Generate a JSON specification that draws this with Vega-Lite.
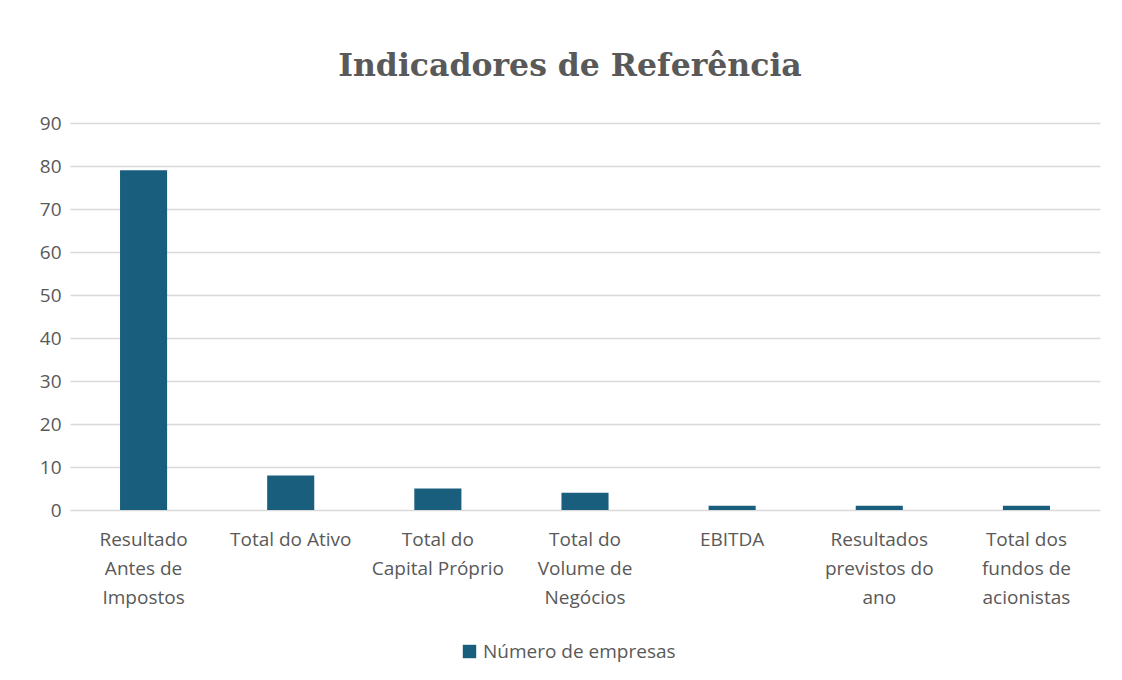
{
  "$schema": "https://vega.github.io/schema/vega-lite/v6.json",
  "autosize": {"type": "none"},
  "width": 1030,
  "height": 387,
  "padding": {"left": 70, "top": 123, "right": 22, "bottom": 170},
  "background": "white",
  "title": {
    "text": "Indicadores de Referência",
    "font": "DejaVu Serif",
    "fontSize": 31.5,
    "fontWeight": "bold",
    "color": "#595959",
    "anchor": "middle",
    "dx": -15,
    "offset": 32
  },
  "data": {
    "values": [
      {"indicador": "Resultado Antes de Impostos", "serie": "Número de empresas", "valor": 79},
      {"indicador": "Total do Ativo", "serie": "Número de empresas", "valor": 8},
      {"indicador": "Total do Capital Próprio", "serie": "Número de empresas", "valor": 5},
      {"indicador": "Total do Volume de Negócios", "serie": "Número de empresas", "valor": 4},
      {"indicador": "EBITDA", "serie": "Número de empresas", "valor": 1},
      {"indicador": "Resultados previstos do ano", "serie": "Número de empresas", "valor": 1},
      {"indicador": "Total dos fundos de acionistas", "serie": "Número de empresas", "valor": 1}
    ]
  },
  "mark": {"type": "bar"},
  "encoding": {
    "x": {
      "field": "indicador",
      "type": "nominal",
      "sort": null,
      "title": null,
      "scale": {"paddingInner": 0.68, "paddingOuter": 0.34},
      "axis": {
        "labelAngle": 0,
        "domain": false,
        "ticks": false,
        "labelFont": "Open Sans",
        "labelFontSize": 19,
        "labelColor": "#595959",
        "labelLineHeight": 29,
        "labelPadding": 20,
        "labelBaseline": "top",
        "labelLimit": 200,
        "labelExpr": "datum.label == 'Resultado Antes de Impostos' ? ['Resultado', 'Antes de', 'Impostos'] : datum.label == 'Total do Capital Próprio' ? ['Total do', 'Capital Próprio'] : datum.label == 'Total do Volume de Negócios' ? ['Total do', 'Volume de', 'Negócios'] : datum.label == 'Resultados previstos do ano' ? ['Resultados', 'previstos do', 'ano'] : datum.label == 'Total dos fundos de acionistas' ? ['Total dos', 'fundos de', 'acionistas'] : datum.label"
      }
    },
    "y": {
      "field": "valor",
      "type": "quantitative",
      "title": null,
      "scale": {"domain": [0, 90]},
      "axis": {
        "values": [0, 10, 20, 30, 40, 50, 60, 70, 80, 90],
        "domain": false,
        "ticks": false,
        "labelFont": "Open Sans",
        "labelFontSize": 19,
        "labelColor": "#595959",
        "labelPadding": 9,
        "gridColor": "#d9d9d9",
        "gridWidth": 1.5
      }
    },
    "color": {
      "field": "serie",
      "type": "nominal",
      "scale": {"range": ["#1a5e7e"]},
      "legend": {
        "title": null,
        "orient": "none",
        "legendX": 390,
        "legendY": 519,
        "direction": "horizontal",
        "symbolType": "square",
        "symbolSize": 180,
        "symbolStrokeWidth": 0,
        "labelFont": "Open Sans",
        "labelFontSize": 19,
        "labelColor": "#595959",
        "labelLimit": 400,
        "labelOffset": 4
      }
    }
  },
  "config": {"view": {"stroke": null}}
}
